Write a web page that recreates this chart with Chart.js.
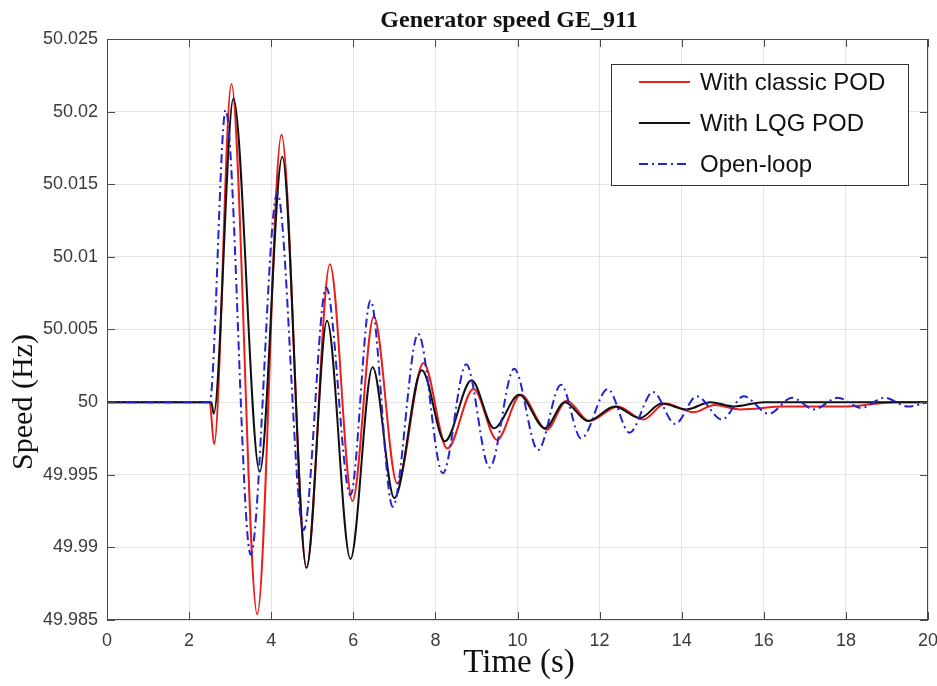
<!DOCTYPE html>
<html>
<head>
<meta charset="utf-8">
<script src="https://cdn.jsdelivr.net/npm/chart.js@4.4.0/dist/chart.umd.min.js"></script>
<style>
  html, body { margin: 0; padding: 0; background: #fff; }
</style>
</head>
<body>
<canvas id="c" width="937" height="686"></canvas>
<script>
// values (time in s, speed in Hz)
var classicT = [0, 2.5, 2.61, 3.03, 3.66, 4.25, 4.86, 5.43, 5.98, 6.5, 7.07, 7.71, 8.29, 8.93, 9.5, 10.08, 10.71, 11.2, 11.75, 12.45, 13.06, 13.6, 14.29, 14.8, 15.43, 16.5, 18.0, 19.2, 20];
var classicV = [50, 50, 49.9971, 50.0219, 49.9854, 50.0184, 49.9886, 50.0095, 49.9932, 50.0059, 49.9944, 50.0027, 49.9968, 50.0009, 49.9974, 50.0005, 49.9981, 50.0001, 49.9987, 49.9997, 49.9988, 49.9999, 49.9993, 49.9998, 49.9995, 49.9997, 49.9997, 50.0, 50.0];

var lqgT = [0, 2.54, 2.6, 3.08, 3.72, 4.27, 4.86, 5.36, 5.93, 6.47, 7.0, 7.67, 8.23, 8.88, 9.43, 10.04, 10.67, 11.15, 11.72, 12.37, 12.98, 13.51, 14.12, 14.7, 15.27, 16.0, 20];
var lqgV = [50, 50, 49.9992, 50.0209, 49.9952, 50.0169, 49.9886, 50.0056, 49.9892, 50.0024, 49.9934, 50.0022, 49.9973, 50.0015, 49.9982, 50.0005, 49.9982, 50.0, 49.9987, 49.9997, 49.9989, 49.9999, 49.9995, 50.0, 49.9997, 50.0, 50.0];

var openT = [0, 2.5, 2.89, 3.5, 4.15, 4.79, 5.34, 5.93, 6.42, 6.96, 7.58, 8.18, 8.75, 9.32, 9.92, 10.5, 11.06, 11.55, 12.2, 12.73, 13.3, 13.84, 14.37, 14.98, 15.51, 16.12, 16.69, 17.22, 17.8, 18.37, 18.94, 19.51, 20];
var openV = [50, 50, 50.0201, 49.9895, 50.0144, 49.9912, 50.0079, 49.9936, 50.007, 49.9928, 50.0047, 49.9951, 50.0026, 49.9955, 50.0023, 49.9967, 50.0012, 49.9975, 50.0009, 49.9979, 50.0007, 49.9985, 50.0004, 49.9988, 50.0004, 49.9992, 50.0003, 49.9995, 50.0003, 49.9996, 50.0003, 49.9997, 50.0];

var seriesNames = ["With classic POD", "With LQG POD", "Open-loop"];
var xTicks = [0, 2, 4, 6, 8, 10, 12, 14, 16, 18, 20];
var yTicks = [49.985, 49.99, 49.995, 50, 50.005, 50.01, 50.015, 50.02, 50.025];

function pts(t, v) {
  var out = [];
  for (var i = 0; i < t.length; i++) out.push({x: t[i], y: v[i]});
  return out;
}

// box, inward ticks, title, axis labels and legend like the matlab figure
var frame = {
  id: "frame",
  afterDraw: function(chart) {
    var ctx = chart.ctx, a = chart.chartArea;
    var xs = chart.scales.x, ys = chart.scales.y;
    ctx.save();
    ctx.strokeStyle = "#4a4a4a";
    ctx.lineWidth = 1;
    ctx.strokeRect(a.left + 0.5, a.top + 0.5, a.right - a.left - 1, a.bottom - a.top - 1);
    ctx.beginPath();
    xTicks.forEach(function(v) {
      var px = Math.round(xs.getPixelForValue(v)) + 0.5;
      ctx.moveTo(px, a.bottom); ctx.lineTo(px, a.bottom - 8);
      ctx.moveTo(px, a.top); ctx.lineTo(px, a.top + 8);
    });
    yTicks.forEach(function(v) {
      var py = Math.round(ys.getPixelForValue(v)) + 0.5;
      ctx.moveTo(a.left, py); ctx.lineTo(a.left + 8, py);
      ctx.moveTo(a.right, py); ctx.lineTo(a.right - 8, py);
    });
    ctx.stroke();

    // title
    ctx.fillStyle = "#111";
    ctx.font = "bold 24px 'Liberation Serif'";
    ctx.textAlign = "center";
    ctx.textBaseline = "alphabetic";
    ctx.fillText("Generator speed GE_911", 509, 27);

    // axis titles
    ctx.font = "33px 'Liberation Serif'";
    ctx.textBaseline = "middle";
    ctx.fillText("Time (s)", 519, 663);
    ctx.save();
    ctx.translate(24, 402);
    ctx.rotate(-Math.PI / 2);
    ctx.font = "30px 'Liberation Serif'";
    ctx.fillText("Speed (Hz)", 0, 0);
    ctx.restore();

    // legend
    var bx = 611, by = 64, bw = 297, bh = 121;
    ctx.fillStyle = "#fff";
    ctx.fillRect(bx, by, bw, bh);
    ctx.strokeStyle = "#333";
    ctx.lineWidth = 1;
    ctx.strokeRect(bx + 0.5, by + 0.5, bw, bh);
    ctx.font = "24px 'Liberation Sans'";
    ctx.textAlign = "left";
    chart.data.datasets.forEach(function(ds, i) {
      var y = by + 18 + i * 41;
      ctx.strokeStyle = ds.borderColor;
      ctx.lineWidth = 2;
      ctx.setLineDash(ds.borderDash || []);
      ctx.beginPath();
      ctx.moveTo(639, y); ctx.lineTo(690, y);
      ctx.stroke();
      ctx.setLineDash([]);
      ctx.fillStyle = "#111";
      ctx.fillText(ds.label, 700, y + 1);
    });
    ctx.restore();
  }
};

var ctx = document.getElementById("c");
var chart = new Chart(ctx, {
  type: "line",
  data: {
    datasets: [
      {label: seriesNames[0], data: pts(classicT, classicV), borderColor: "#e8201c", borderWidth: 2, order: 3},
      {label: seriesNames[1], data: pts(lqgT, lqgV), borderColor: "#111111", borderWidth: 2, order: 2},
      {label: seriesNames[2], data: pts(openT, openV), borderColor: "#2323d0", borderWidth: 2, borderDash: [9, 4, 2, 4], order: 1}
    ]
  },
  options: {
    responsive: false,
    animation: false,
    layout: {padding: {top: 39, right: 9, left: 0, bottom: 0}},
    elements: {
      point: {radius: 0},
      line: {cubicInterpolationMode: "monotone", fill: false}
    },
    plugins: {
      legend: {display: false},
      title: {display: false},
      tooltip: {enabled: false}
    },
    scales: {
      x: {
        type: "linear",
        min: 0, max: 20,
        afterBuildTicks: function(s) { s.ticks = xTicks.map(function(v) { return {value: v}; }); },
        afterFit: function(s) { s.height = 66; s.paddingLeft = 0; s.paddingRight = 0; },
        grid: {color: "#e4e4e4", drawTicks: false},
        border: {display: false},
        ticks: {color: "#3a3a3a", font: {family: "Liberation Sans", size: 18}, padding: 10, maxRotation: 0}
      },
      y: {
        type: "linear",
        min: 49.985, max: 50.025,
        afterBuildTicks: function(s) { s.ticks = yTicks.map(function(v) { return {value: v}; }); },
        afterFit: function(s) { s.width = 107; },
        grid: {color: "#e4e4e4", drawTicks: false},
        border: {display: false},
        ticks: {
          color: "#3a3a3a", font: {family: "Liberation Sans", size: 18}, padding: 9,
          callback: function(v) { return String(+v.toFixed(3)); }
        }
      }
    }
  },
  plugins: [frame]
});
</script>
</body>
</html>
